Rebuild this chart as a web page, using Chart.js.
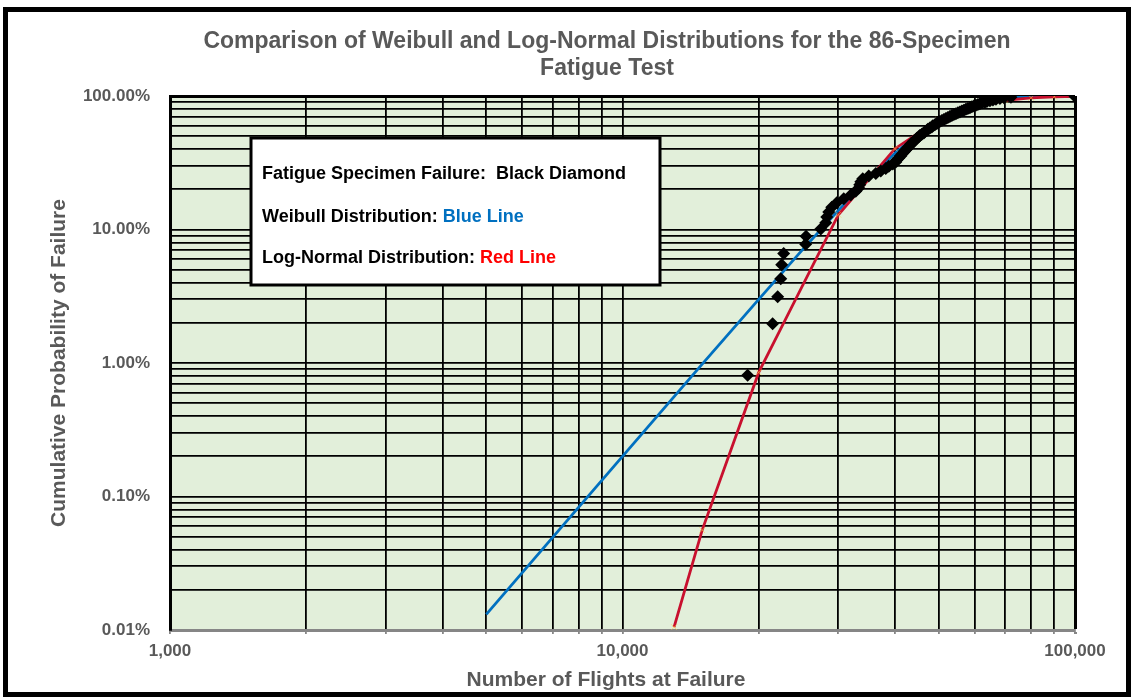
<!DOCTYPE html>
<html>
<head>
<meta charset="utf-8">
<script src="https://cdn.jsdelivr.net/npm/chart.js@4"></script>
<style>
  html, body { margin: 0; padding: 0; background: #fff; }
  #wrap { position: relative; width: 1133px; height: 698px; }
  #frame { position: absolute; left: 3px; top: 7px; width: 1118px; height: 680px; border: 5px solid #000; pointer-events: none; }
  canvas { position: absolute; left: 0; top: 0; }
</style>
</head>
<body>
<div id="wrap">
  <canvas id="chart"></canvas>
  <div id="frame"></div>
</div>
<script>
// flights at failure for the 86 specimens
const specimenFlights = [
  18900, 21470, 22030, 22370, 22480, 22710, 25400, 25450, 27420, 28130,
  28270, 28560, 29000, 29750, 30830, 31950, 32770, 33270, 33440, 33620,
  33960, 35010, 36290, 37220, 38180, 38770, 39570, 40180, 40380, 40800,
  41220, 41430, 41850, 42070, 42500, 42720, 43150, 43370, 43810, 44040,
  44490, 44710, 45170, 45400, 45870, 46340, 46580, 47050, 47290, 47770,
  48260, 48510, 49010, 49510, 49760, 50270, 50790, 51310, 51830, 52360,
  52900, 53440, 53990, 54540, 55100, 55660, 56230, 56810, 57390, 57980,
  58570, 59170, 59780, 60390, 61010, 61630, 62270, 63230, 63880, 64860,
  65860, 66870, 68250, 69650, 72180, 100000
];
// cumulative probability (%) for each specimen
const specimenProb = [
  0.81, 1.97, 3.13, 4.28, 5.44, 6.60, 7.75, 8.91, 10.07, 11.23,
  12.38, 13.54, 14.70, 15.86, 17.01, 18.17, 19.33, 20.49, 21.64, 22.80,
  23.96, 25.12, 26.27, 27.43, 28.59, 29.75, 30.90, 32.06, 33.22, 34.38,
  35.53, 36.69, 37.85, 39.00, 40.16, 41.32, 42.48, 43.63, 44.79, 45.95,
  47.11, 48.26, 49.42, 50.58, 51.74, 52.89, 54.05, 55.21, 56.37, 57.52,
  58.68, 59.84, 61.00, 62.15, 63.31, 64.47, 65.63, 66.78, 67.94, 69.10,
  70.25, 71.41, 72.57, 73.73, 74.88, 76.04, 77.20, 78.36, 79.51, 80.67,
  81.83, 82.99, 84.14, 85.30, 86.46, 87.62, 88.77, 89.93, 91.09, 92.25,
  93.40, 94.56, 95.72, 96.88, 98.03, 99.19
];

const weibullFlights = [5000, 10000, 15000, 20000, 25000, 30000, 35000, 40000, 45000, 50000, 60000, 70000, 80000, 90000, 100000];
const weibullProb = [0.0131, 0.200, 0.98, 3.0, 7.07, 13.9, 24.1, 37.2, 52.2, 67.3, 89.9, 98.5, 99.92, 99.99, 100];

const lognormFlights = [13000, 15000, 20000, 30000, 40000, 50000, 60000, 70000, 80000, 90000, 100000];
const lognormProb = [0.0105, 0.056, 0.85, 12.9, 40.3, 66.7, 83.9, 92.8, 96.95, 98.73, 99.47];

const xTickValues = [1000, 10000, 100000];
const xTickLabels = ['1,000', '10,000', '100,000'];
const yTickValues = [0.01, 0.1, 1, 10, 100];
const yTickLabels = ['0.01%', '0.10%', '1.00%', '10.00%', '100.00%'];

const FONT = "'Liberation Sans', Arial, sans-serif";
const GREY = '#595959';

// grid lines at 1..9 x each decade
function logGrid(decades) {
  const out = [];
  decades.forEach((d, i) => {
    if (i === decades.length - 1) { out.push(d); return; }
    for (let m = 1; m <= 9; m++) out.push(+(d * m).toPrecision(3));
  });
  return out;
}
const xGrid = logGrid(xTickValues);
const yGrid = logGrid(yTickValues);

const toPoints = (xs, ys) => xs.map((x, i) => ({ x, y: ys[i] }));

const plotBg = {
  id: 'plotBg',
  beforeDraw(chart) {
    const { ctx, chartArea: a } = chart;
    ctx.save();
    ctx.fillStyle = '#E2EFDA';
    ctx.fillRect(a.left, a.top, a.right - a.left, a.bottom - a.top);
    ctx.restore();
  }
};

const texts = {
  id: 'texts',
  afterDraw(chart) {
    const ctx = chart.ctx;
    ctx.save();
    ctx.fillStyle = GREY;
    ctx.textAlign = 'center';
    ctx.textBaseline = 'middle';
    ctx.font = 'bold 23px ' + FONT;
    ctx.fillText('Comparison of Weibull and Log-Normal Distributions for the 86-Specimen', 607, 42);
    ctx.fillText('Fatigue Test', 607, 69);
    ctx.font = 'bold 21px ' + FONT;
    ctx.fillText('Number of Flights at Failure', 606, 680);

    // text box
    ctx.fillStyle = '#fff';
    ctx.fillRect(251, 138, 409, 147);
    ctx.lineWidth = 3;
    ctx.strokeStyle = '#000';
    ctx.strokeRect(251, 138, 409, 147);

    ctx.textAlign = 'left';
    ctx.font = 'bold 18px ' + FONT;
    const rows = [
      ['Fatigue Specimen Failure:  Black Diamond', '', '#000', 174],
      ['Weibull Distribution: ', 'Blue Line', '#0070C0', 217],
      ['Log-Normal Distribution: ', 'Red Line', '#FF0000', 258]
    ];
    rows.forEach(([a, b, col, y]) => {
      ctx.fillStyle = '#000';
      ctx.fillText(a, 262, y);
      if (b) {
        ctx.fillStyle = col;
        ctx.fillText(b, 262 + ctx.measureText(a).width, y);
      }
    });
    ctx.restore();
  }
};

const tickFont = { family: FONT, size: 17, weight: 'bold' };

new Chart(document.getElementById('chart'), {
  type: 'scatter',
  data: {
    datasets: [
      {
        label: 'Fatigue Specimen Failure',
        data: toPoints(specimenFlights, specimenProb),
        pointStyle: 'rectRot',
        pointRadius: 6.5,
        backgroundColor: '#000',
        borderColor: '#000',
        borderWidth: 0,
        order: 0
      },
      {
        label: 'Weibull',
        data: toPoints(weibullFlights, weibullProb),
        showLine: true,
        borderColor: '#0070C0',
        borderWidth: 2.8,
        pointRadius: 0,
        order: 2
      },
      {
        label: 'Log-Normal',
        data: toPoints(lognormFlights, lognormProb),
        showLine: true,
        borderColor: '#C8102E',
        borderWidth: 2.8,
        pointStyle: 'crossRot',
        pointRadius: 4,
        pointBorderColor: 'rgba(255,200,60,0.55)',
        pointBorderWidth: 1,
        order: 1
      }
    ]
  },
  options: {
    responsive: true,
    maintainAspectRatio: false,
    animation: false,
    layout: { padding: { left: 10, top: 96, right: 58, bottom: 10 } },
    plugins: {
      legend: { display: false },
      title: { display: false },
      tooltip: { enabled: false }
    },
    scales: {
      x: {
        type: 'logarithmic',
        min: 1000,
        max: 100000,
        afterBuildTicks: s => { s.ticks = xGrid.map(v => ({ value: v })); },
        afterFit: s => { s.height = 58; },
        grid: {
          color: '#000',
          lineWidth: c => (c.tick && c.tick.value === 100000 ? 3 : 1.8),
          tickLength: 4,
          tickColor: '#868686'
        },
        border: { color: '#868686', width: 3 },
        ticks: {
          autoSkip: false,
          maxRotation: 0,
          padding: 7,
          color: GREY,
          font: tickFont,
          callback: v => { const i = xTickValues.indexOf(v); return i < 0 ? '' : xTickLabels[i]; }
        }
      },
      y: {
        type: 'logarithmic',
        min: 0.01,
        max: 100,
        afterBuildTicks: s => { s.ticks = yGrid.map(v => ({ value: v })); },
        afterFit: s => { s.width = 160; },
        grid: {
          color: c => (c.tick && c.tick.value === 0.01 ? '#868686' : '#000'),
          lineWidth: c => (c.tick && c.tick.value === 100 ? 3 : 1.8),
          drawTicks: false
        },
        border: { color: '#000', width: 3 },
        ticks: {
          autoSkip: false,
          padding: 20,
          color: GREY,
          font: tickFont,
          callback: v => { const i = yTickValues.indexOf(v); return i < 0 ? '' : yTickLabels[i]; }
        },
        title: {
          display: true,
          text: 'Cumulative Probability of Failure',
          color: GREY,
          font: { family: FONT, size: 21, weight: 'bold' },
          padding: { top: 37, bottom: 0 }
        }
      }
    }
  },
  plugins: [plotBg, texts]
});
</script>
</body>
</html>
